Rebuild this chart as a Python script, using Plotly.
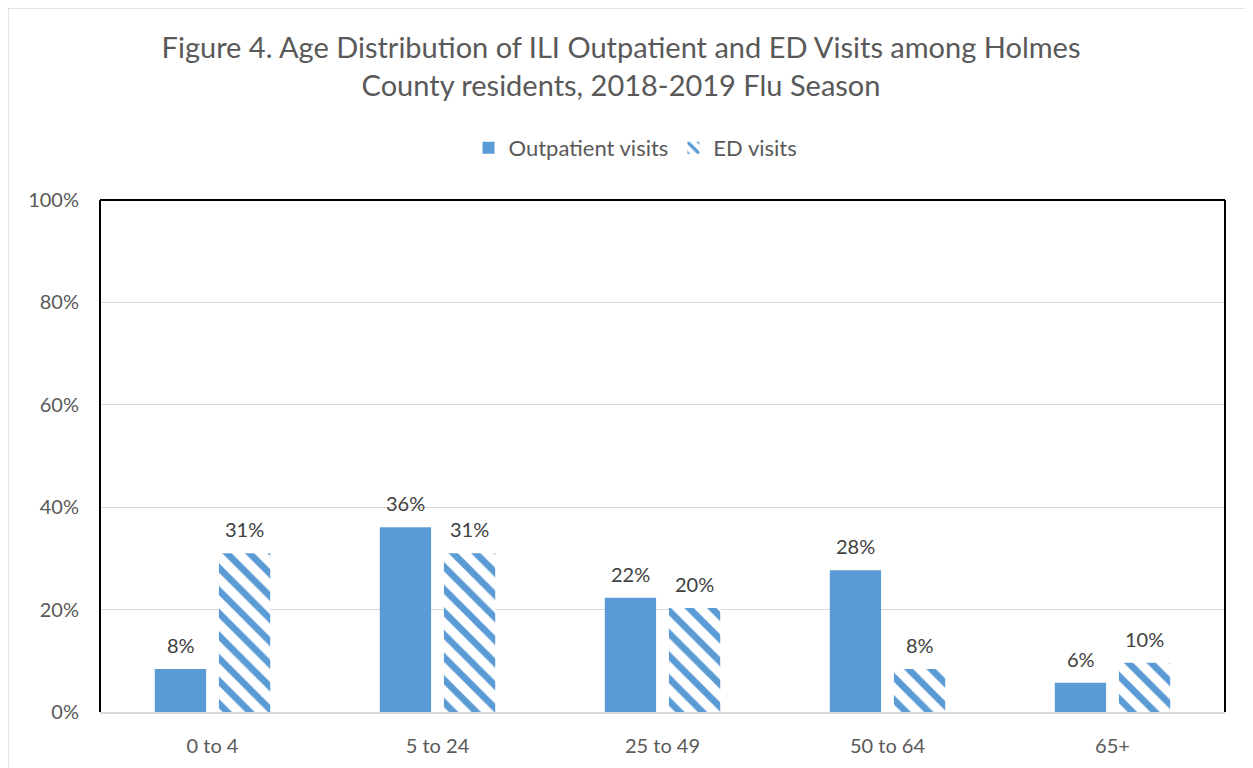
import plotly.graph_objects as go

categories = ["0 to 4", "5 to 24", "25 to 49", "50 to 64", "65+"]
outpatient = [8.4, 36.1, 22.3, 27.7, 5.7]
ed = [31.0, 31.0, 20.3, 8.4, 9.6]
out_labels = ["8%", "36%", "22%", "28%", "6%"]
ed_labels = ["31%", "31%", "20%", "8%", "10%"]
y_ticks = [0, 20, 40, 60, 80, 100]
y_ticklabels = ["0%", "20%", "40%", "60%", "80%", "100%"]

BLUE = "#5b9bd5"
TXT = "#595959"
FONT = "Lato"

fig = go.Figure()
fig.add_trace(go.Bar(
    x=categories, y=outpatient, name="Outpatient visits",
    marker=dict(color=BLUE, line=dict(width=0)),
))
fig.add_trace(go.Bar(
    x=categories, y=ed, name="ED visits",
    marker=dict(color="white", line=dict(width=0),
                pattern=dict(shape="\\", fgcolor=BLUE, bgcolor="white", fgopacity=1,
                             size=16, solidity=0.42, fillmode="replace")),
))

# data labels above bars
for cat, v, lab in zip(categories, outpatient, out_labels):
    fig.add_annotation(x=cat, y=v, text=lab, showarrow=False, xshift=-32, yshift=24,
                       yanchor="middle", font=dict(size=20, color="#404040", family=FONT))
for cat, v, lab in zip(categories, ed, ed_labels):
    fig.add_annotation(x=cat, y=v, text=lab, showarrow=False, xshift=32, yshift=24,
                       yanchor="middle", font=dict(size=20, color="#404040", family=FONT))

fig.update_layout(
    width=1245, height=760,
    paper_bgcolor="white", plot_bgcolor="white",
    margin=dict(l=92, r=28, t=192, b=56),
    font=dict(family=FONT, color=TXT, size=20),
    barmode="group", bargap=0.43, bargroupgap=0.2,
    title=dict(
        text="Figure 4. Age Distribution of ILI Outpatient and ED Visits among Holmes<br>County residents, 2018-2019 Flu Season",
        x=0.4924, xanchor="center", y=0.934, yanchor="middle",
        font=dict(size=29, color=TXT, family=FONT),
    ),
    legend=dict(orientation="h", x=0.476, xanchor="center", y=1.1016, yanchor="middle",
                font=dict(size=22, color=TXT, family=FONT), traceorder="normal",
                itemwidth=30),
    showlegend=True,
)
fig.update_yaxes(range=[0, 100], tickvals=y_ticks, ticktext=y_ticklabels,
                 showgrid=True, gridcolor="#d9d9d9", gridwidth=1,
                 zeroline=False, showline=False, ticks="", ticklen=0,
                 ticklabelstandoff=20,
                 tickfont=dict(size=20, color=TXT), automargin=False)
fig.update_xaxes(showline=True, linecolor="#d9d9d9", linewidth=1.5, ticks="",
                 ticklabelstandoff=15,
                 tickfont=dict(size=20, color=TXT), automargin=False)

# plot-area border (top, left, right) in black
for x0, y0, x1, y1 in [(0, 0, 0, 1), (0, 1, 1, 1), (1, 0, 1, 1)]:
    fig.add_shape(type="line", xref="x domain", yref="y domain",
                  x0=x0, y0=y0, x1=x1, y1=y1,
                  line=dict(color="black", width=2), layer="above")
# outer chart border
fig.add_shape(type="rect", xref="paper", yref="paper",
              x0=-0.0818, y0=-0.12, x1=1.03, y1=1.375,
              line=dict(color="#d9d9d9", width=1.5), layer="below")

fig.write_html("out.html")
